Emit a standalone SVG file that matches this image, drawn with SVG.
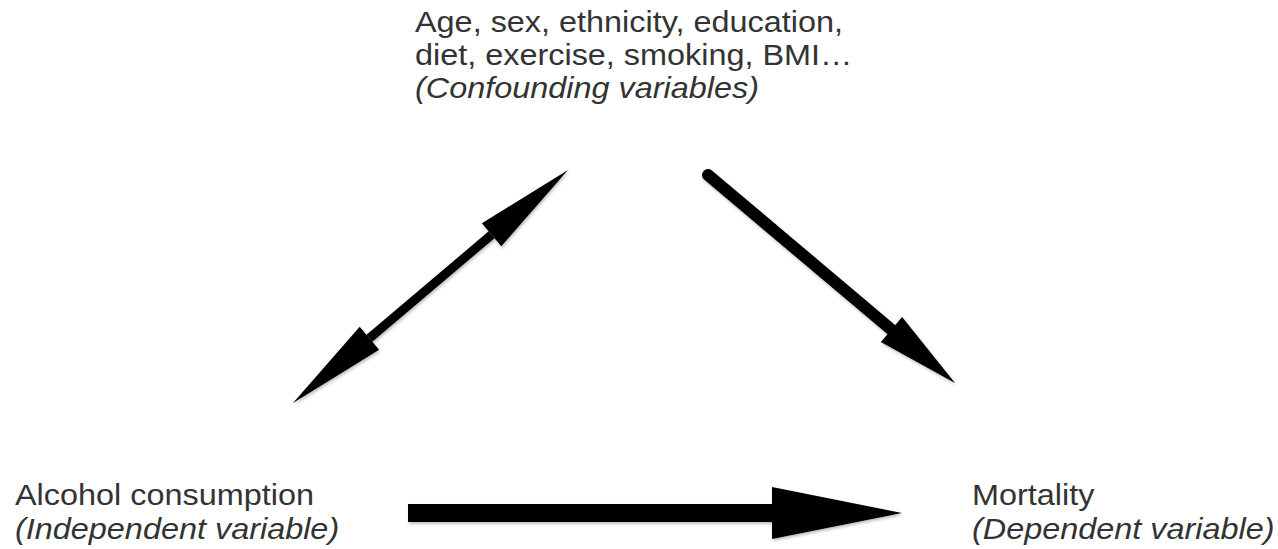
<svg xmlns="http://www.w3.org/2000/svg" width="1278" height="549" viewBox="0 0 1278 549">
  <defs>
    <style>
      .t { font-family: "Liberation Sans", Arial, Helvetica, sans-serif; font-size: 30px; fill: #333; }
      .i { font-style: italic; }
      .shaft { stroke: #000; fill: none; }
      .head { fill: #000; stroke: none; }
    </style>
    <filter id="sh" x="-10%" y="-10%" width="120%" height="130%">
      <feDropShadow dx="1" dy="2" stdDeviation="1.5" flood-color="#000" flood-opacity="0.25"/>
    </filter>
  </defs>
  <rect width="1278" height="549" fill="#fff"/>

  <g id="node-confounders" transform="translate(415,0) scale(1.08,1)">
    <text class="t" x="0" y="32">Age, sex, ethnicity, education,</text>
    <text class="t" x="0" y="65">diet, exercise, smoking, BMI…</text>
    <text class="t i" x="0" y="98">(Confounding variables)</text>
  </g>

  <g id="node-alcohol" transform="translate(15,0) scale(1.08,1)">
    <text class="t" x="0" y="505">Alcohol consumption</text>
    <text class="t i" x="0" y="539">(Independent variable)</text>
  </g>

  <g id="node-mortality" transform="translate(972,0) scale(1.08,1)">
    <text class="t" x="0" y="505">Mortality</text>
    <text class="t i" x="0" y="539">(Dependent variable)</text>
  </g>

  <g id="connectors" filter="url(#sh)">
    <!-- double arrow: alcohol <-> confounders -->
    <g id="edge-alcohol-confounders">
      <line class="shaft" x1="369.4" y1="338.3" x2="491.6" y2="234.7" stroke-width="9"/>
      <polygon class="head" points="568,170 501.3,246.2 481.9,223.2"/>
      <polygon class="head" points="293,403 359.7,326.8 379.1,349.8"/>
    </g>
    <!-- confounders -> mortality -->
    <g id="edge-confounders-mortality">
      <line class="shaft" x1="708" y1="175" x2="893" y2="331" stroke-width="12" stroke-linecap="round"/>
      <polygon class="head" points="955,383 880.9,342.1 902.1,316.9"/>
    </g>
    <!-- alcohol -> mortality -->
    <g id="edge-alcohol-mortality">
      <rect x="408" y="504" width="368" height="18" fill="#000"/>
      <polygon class="head" points="902,513 772,487 772,539"/>
    </g>
  </g>
</svg>
